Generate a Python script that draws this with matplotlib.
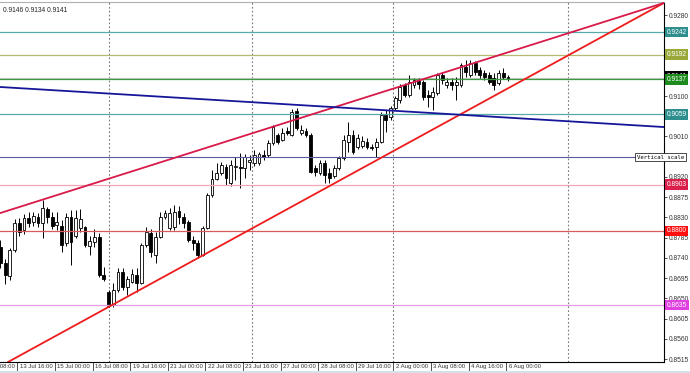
import matplotlib
matplotlib.use("Agg")
import matplotlib.pyplot as plt
import matplotlib.transforms as mtransforms
from matplotlib.patches import Rectangle

plt.rcParams['font.family'] = ['Liberation Sans Narrow', 'Liberation Sans', 'DejaVu Sans']

# H4 bars, 13 Jul 00:00 .. 6 Aug 04:00
opens = [
    0.8764, 0.8729, 0.8700, 0.8758, 0.8818, 0.8802, 0.8829, 0.8820, 0.8831, 0.8818,
    0.8849, 0.8831, 0.8813, 0.8811, 0.8773, 0.8831, 0.8789, 0.8807, 0.8809, 0.8767,
    0.8775, 0.8787, 0.8702, 0.8664, 0.8635, 0.8669, 0.8709, 0.8675, 0.8687, 0.8702,
    0.8684, 0.8769, 0.8795, 0.8747, 0.8787, 0.8831, 0.8807, 0.8809, 0.8844, 0.8831,
    0.8820, 0.8780, 0.8773, 0.8747, 0.8807, 0.8880, 0.8915, 0.8929, 0.8942, 0.8907,
    0.8942, 0.8942, 0.8940, 0.8953, 0.8951, 0.8951, 0.8969, 0.8969, 0.8996, 0.9013,
    0.9002, 0.9022, 0.9013, 0.9067, 0.9018, 0.9022, 0.9013, 0.8940, 0.8929, 0.8951,
    0.8929, 0.8922, 0.8940, 0.8962, 0.8998, 0.9013, 0.8987, 0.8989, 0.8998, 0.8987,
    0.8987, 0.8998, 0.9058, 0.9053, 0.9073, 0.9091, 0.9124, 0.9102, 0.9124, 0.9133,
    0.9131, 0.9102, 0.9098, 0.9107, 0.9147, 0.9124, 0.9131, 0.9124, 0.9124, 0.9164,
    0.9147, 0.9173, 0.9158, 0.9151, 0.9147, 0.9140, 0.9129, 0.9151, 0.9142]
highs = [
    0.8780, 0.8738, 0.8762, 0.8827, 0.8829, 0.8838, 0.8842, 0.8842, 0.8840, 0.8869,
    0.8853, 0.8842, 0.8842, 0.8824, 0.8840, 0.8847, 0.8847, 0.8849, 0.8811, 0.8789,
    0.8804, 0.8795, 0.8720, 0.8669, 0.8684, 0.8718, 0.8718, 0.8700, 0.8715, 0.8718,
    0.8773, 0.8809, 0.8804, 0.8798, 0.8842, 0.8847, 0.8851, 0.8858, 0.8855, 0.8840,
    0.8824, 0.8789, 0.8780, 0.8811, 0.8884, 0.8936, 0.8951, 0.8953, 0.8949, 0.8958,
    0.8964, 0.8973, 0.8971, 0.8969, 0.8980, 0.8976, 0.8980, 0.9002, 0.9036, 0.9018,
    0.9029, 0.9031, 0.9071, 0.9073, 0.9036, 0.9029, 0.9018, 0.8947, 0.8958, 0.8958,
    0.8940, 0.8947, 0.8967, 0.9013, 0.9042, 0.9024, 0.9016, 0.9011, 0.9007, 0.8993,
    0.9007, 0.9064, 0.9069, 0.9078, 0.9100, 0.9127, 0.9129, 0.9147, 0.9140, 0.9140,
    0.9136, 0.9113, 0.9120, 0.9151, 0.9153, 0.9140, 0.9140, 0.9142, 0.9173, 0.9180,
    0.9180, 0.9178, 0.9164, 0.9158, 0.9153, 0.9151, 0.9158, 0.9162, 0.9146]
lows = [
    0.8718, 0.8682, 0.8691, 0.8753, 0.8789, 0.8793, 0.8809, 0.8811, 0.8809, 0.8784,
    0.8818, 0.8804, 0.8802, 0.8753, 0.8767, 0.8724, 0.8784, 0.8798, 0.8764, 0.8747,
    0.8764, 0.8698, 0.8689, 0.8631, 0.8631, 0.8664, 0.8669, 0.8658, 0.8684, 0.8664,
    0.8682, 0.8764, 0.8742, 0.8729, 0.8784, 0.8827, 0.8802, 0.8802, 0.8816, 0.8807,
    0.8775, 0.8758, 0.8740, 0.8744, 0.8804, 0.8875, 0.8913, 0.8924, 0.8902, 0.8900,
    0.8913, 0.8895, 0.8918, 0.8936, 0.8944, 0.8947, 0.8958, 0.8964, 0.8991, 0.8993,
    0.9000, 0.9013, 0.9011, 0.9024, 0.9013, 0.9009, 0.8929, 0.8922, 0.8924, 0.8907,
    0.8907, 0.8918, 0.8936, 0.8958, 0.8976, 0.8971, 0.8982, 0.8984, 0.8982, 0.8980,
    0.8964, 0.8996, 0.9020, 0.9047, 0.9069, 0.9084, 0.9098, 0.9098, 0.9118, 0.9116,
    0.9091, 0.9076, 0.9069, 0.9102, 0.9127, 0.9118, 0.9113, 0.9091, 0.9120, 0.9142,
    0.9142, 0.9147, 0.9140, 0.9136, 0.9127, 0.9113, 0.9124, 0.9138, 0.9134]
closes = [
    0.8729, 0.8702, 0.8758, 0.8818, 0.8798, 0.8829, 0.8818, 0.8833, 0.8818, 0.8851,
    0.8831, 0.8811, 0.8820, 0.8769, 0.8831, 0.8775, 0.8829, 0.8827, 0.8769, 0.8778,
    0.8787, 0.8702, 0.8693, 0.8633, 0.8669, 0.8709, 0.8675, 0.8693, 0.8704, 0.8684,
    0.8769, 0.8798, 0.8753, 0.8787, 0.8831, 0.8840, 0.8840, 0.8842, 0.8831, 0.8818,
    0.8780, 0.8773, 0.8747, 0.8807, 0.8880, 0.8915, 0.8929, 0.8947, 0.8918, 0.8947,
    0.8944, 0.8940, 0.8964, 0.8958, 0.8969, 0.8971, 0.8964, 0.8996, 0.9031, 0.8998,
    0.9018, 0.9018, 0.9064, 0.9029, 0.9024, 0.9013, 0.8931, 0.8931, 0.8951, 0.8924,
    0.8918, 0.8940, 0.8962, 0.9002, 0.9013, 0.8976, 0.9007, 0.9000, 0.8987, 0.8984,
    0.8998, 0.9058, 0.9047, 0.9073, 0.9096, 0.9120, 0.9102, 0.9131, 0.9136, 0.9127,
    0.9098, 0.9098, 0.9109, 0.9147, 0.9136, 0.9131, 0.9124, 0.9131, 0.9169, 0.9153,
    0.9173, 0.9153, 0.9147, 0.9142, 0.9131, 0.9124, 0.9151, 0.9142, 0.9141]

time_tick_bars = [-5, 3, 11, 19, 27, 35, 43, 51, 59, 67, 75, 83, 91, 99, 107]
time_labels = ['12 Jul 08:00', '13 Jul 16:00', '15 Jul 00:00', '16 Jul 08:00',
               '19 Jul 16:00', '21 Jul 00:00', '22 Jul 08:00', '23 Jul 16:00',
               '27 Jul 00:00', '28 Jul 08:00', '29 Jul 16:00', '2 Aug 00:00',
               '3 Aug 08:00', '4 Aug 16:00', '6 Aug 00:00']
price_ticks = [0.8515 + 0.0045 * k for k in range(18)]

# horizontal levels (price, line colour, tag colour)
level_prices = [0.9242, 0.9192, 0.9137, 0.9059, 0.8903, 0.8800, 0.8635]
level_colors = ['#5aa9a9', '#b4b870', '#3f9a3f', '#5aa9a9', '#f2a6b8', '#d85a5a', '#e69ae6']
tag_colors = ['#2f8f8f', '#9aa83a', '#1c8a1c', '#2f8f8f', '#dc1e4a', '#ff1010', '#e040e0']
bid_price = 0.9141
scale_level = 0.8964

# trend lines: two anchors (bar, price)
support = [(23, 0.8631), (141.2, 0.9307)]
resistance = [(0, 0.8840), (141.2, 0.9307)]
blue_line = [(0, 0.9120), (141.2, 0.9031)]
separators = [23.1, 53.5, 83.5, 120.7]

fig = plt.figure(figsize=(6.9, 3.73), dpi=100)
ax = fig.add_axes([0, 11 / 373, 664 / 690, 360 / 373])
ax.set_xlim(-0.1, 141.2)
ax.set_ylim(0.85087, 0.9309)

# candles
body_w = 0.6
for i in range(len(opens)):
    o, h, l, c = opens[i], highs[i], lows[i], closes[i]
    ax.plot([i, i], [l, h], color='black', lw=0.7, zorder=3, solid_capstyle='butt')
    bottom = min(o, c)
    height = max(abs(c - o), 0.00005)
    face = 'white' if c >= o else 'black'
    ax.add_patch(Rectangle((i - body_w / 2, bottom), body_w, height,
                           facecolor=face, edgecolor='black', lw=0.6, zorder=4))

# period separators
for s in separators:
    ax.axvline(s, color='#777777', lw=0.8, ls=(0, (1.5, 2)), zorder=1)

# levels
for p, lc in zip(level_prices, level_colors):
    ax.axhline(p, color=lc, lw=0.9, zorder=5)
ax.axhline(bid_price, color='#c8c8c8', lw=0.8, zorder=2)
ax.axhline(scale_level, color='#5a5aa0', lw=0.8, zorder=5)

# trend lines
ax.axline(support[0], support[1], color='#ee1c1c', lw=1.3, zorder=6)
ax.axline(resistance[0], resistance[1], color='#d81a4a', lw=1.3, zorder=6)
ax.axline(blue_line[0], blue_line[1], color='#16169a', lw=1.3, zorder=6)

# axes styling
ax.spines['left'].set_visible(False)
ax.spines['top'].set_color('#b0b0b0')
ax.spines['top'].set_linewidth(0.8)
ax.spines['right'].set_color('black')
ax.spines['right'].set_linewidth(0.8)
ax.spines['bottom'].set_color('black')
ax.spines['bottom'].set_linewidth(0.8)

# price scale: labels under a tag are hidden, as on the terminal
covered = level_prices + [bid_price, scale_level]
ax.yaxis.tick_right()
ax.set_yticks(price_ticks)
ax.set_yticklabels(['' if any(abs(p - t) < 0.0008 for t in covered) else '%.4f' % p
                    for p in price_ticks])
ax.tick_params(axis='y', length=2, width=0.6, pad=1.5, labelsize=4.8, colors='#333333')

# time scale
ax.set_xticks([b + 0.6 for b in time_tick_bars[1:]])
ax.set_xticklabels([])
ax.tick_params(axis='x', length=7, width=0.6, colors='#333333')
shift = mtransforms.ScaledTranslation(2.5 / 100, 0, fig.dpi_scale_trans)
xtr = mtransforms.blended_transform_factory(ax.transData, ax.transAxes) + shift
for b, lab in zip(time_tick_bars, time_labels):
    ax.text(b + 0.6, -4.5 / 360, lab, transform=xtr, ha='left', va='center',
            fontsize=4.3, color='#333333', clip_on=False)

# price tags on the right scale
tag_tr = mtransforms.blended_transform_factory(ax.transAxes, ax.transData)
ax.text(1.004, bid_price + 0.00025, '%.4f' % bid_price, transform=tag_tr, ha='left', va='center',
        fontsize=4.8, color='white', clip_on=False, zorder=10,
        bbox=dict(boxstyle='square,pad=0.25', fc='black', ec='none'))
for p, tc in zip(level_prices, tag_colors):
    ax.text(1.004, p, '%.4f' % p, transform=tag_tr, ha='left', va='center',
            fontsize=4.8, color='white', clip_on=False, zorder=11,
            bbox=dict(boxstyle='square,pad=0.25', fc=tc, ec='none'))

ax.text(0.959, scale_level, 'Vertical scale', transform=tag_tr, ha='left', va='center',
        fontsize=4.1, family='DejaVu Sans Mono', color='black', clip_on=False, zorder=12,
        bbox=dict(boxstyle='square,pad=0.3', fc='white', ec='black', lw=0.5))

ax.text(0.004, 0.985, '%.4f %.4f %.4f' % (highs[-1], lows[-1], closes[-1]),
        transform=ax.transAxes, ha='left', va='top', fontsize=4.8, color='#222222')

fig.patches.append(Rectangle((0, 0), 1, 2 / 373, transform=fig.transFigure,
                             facecolor='#d4e0ea', edgecolor='none'))

fig.savefig('out.png', dpi=100)
